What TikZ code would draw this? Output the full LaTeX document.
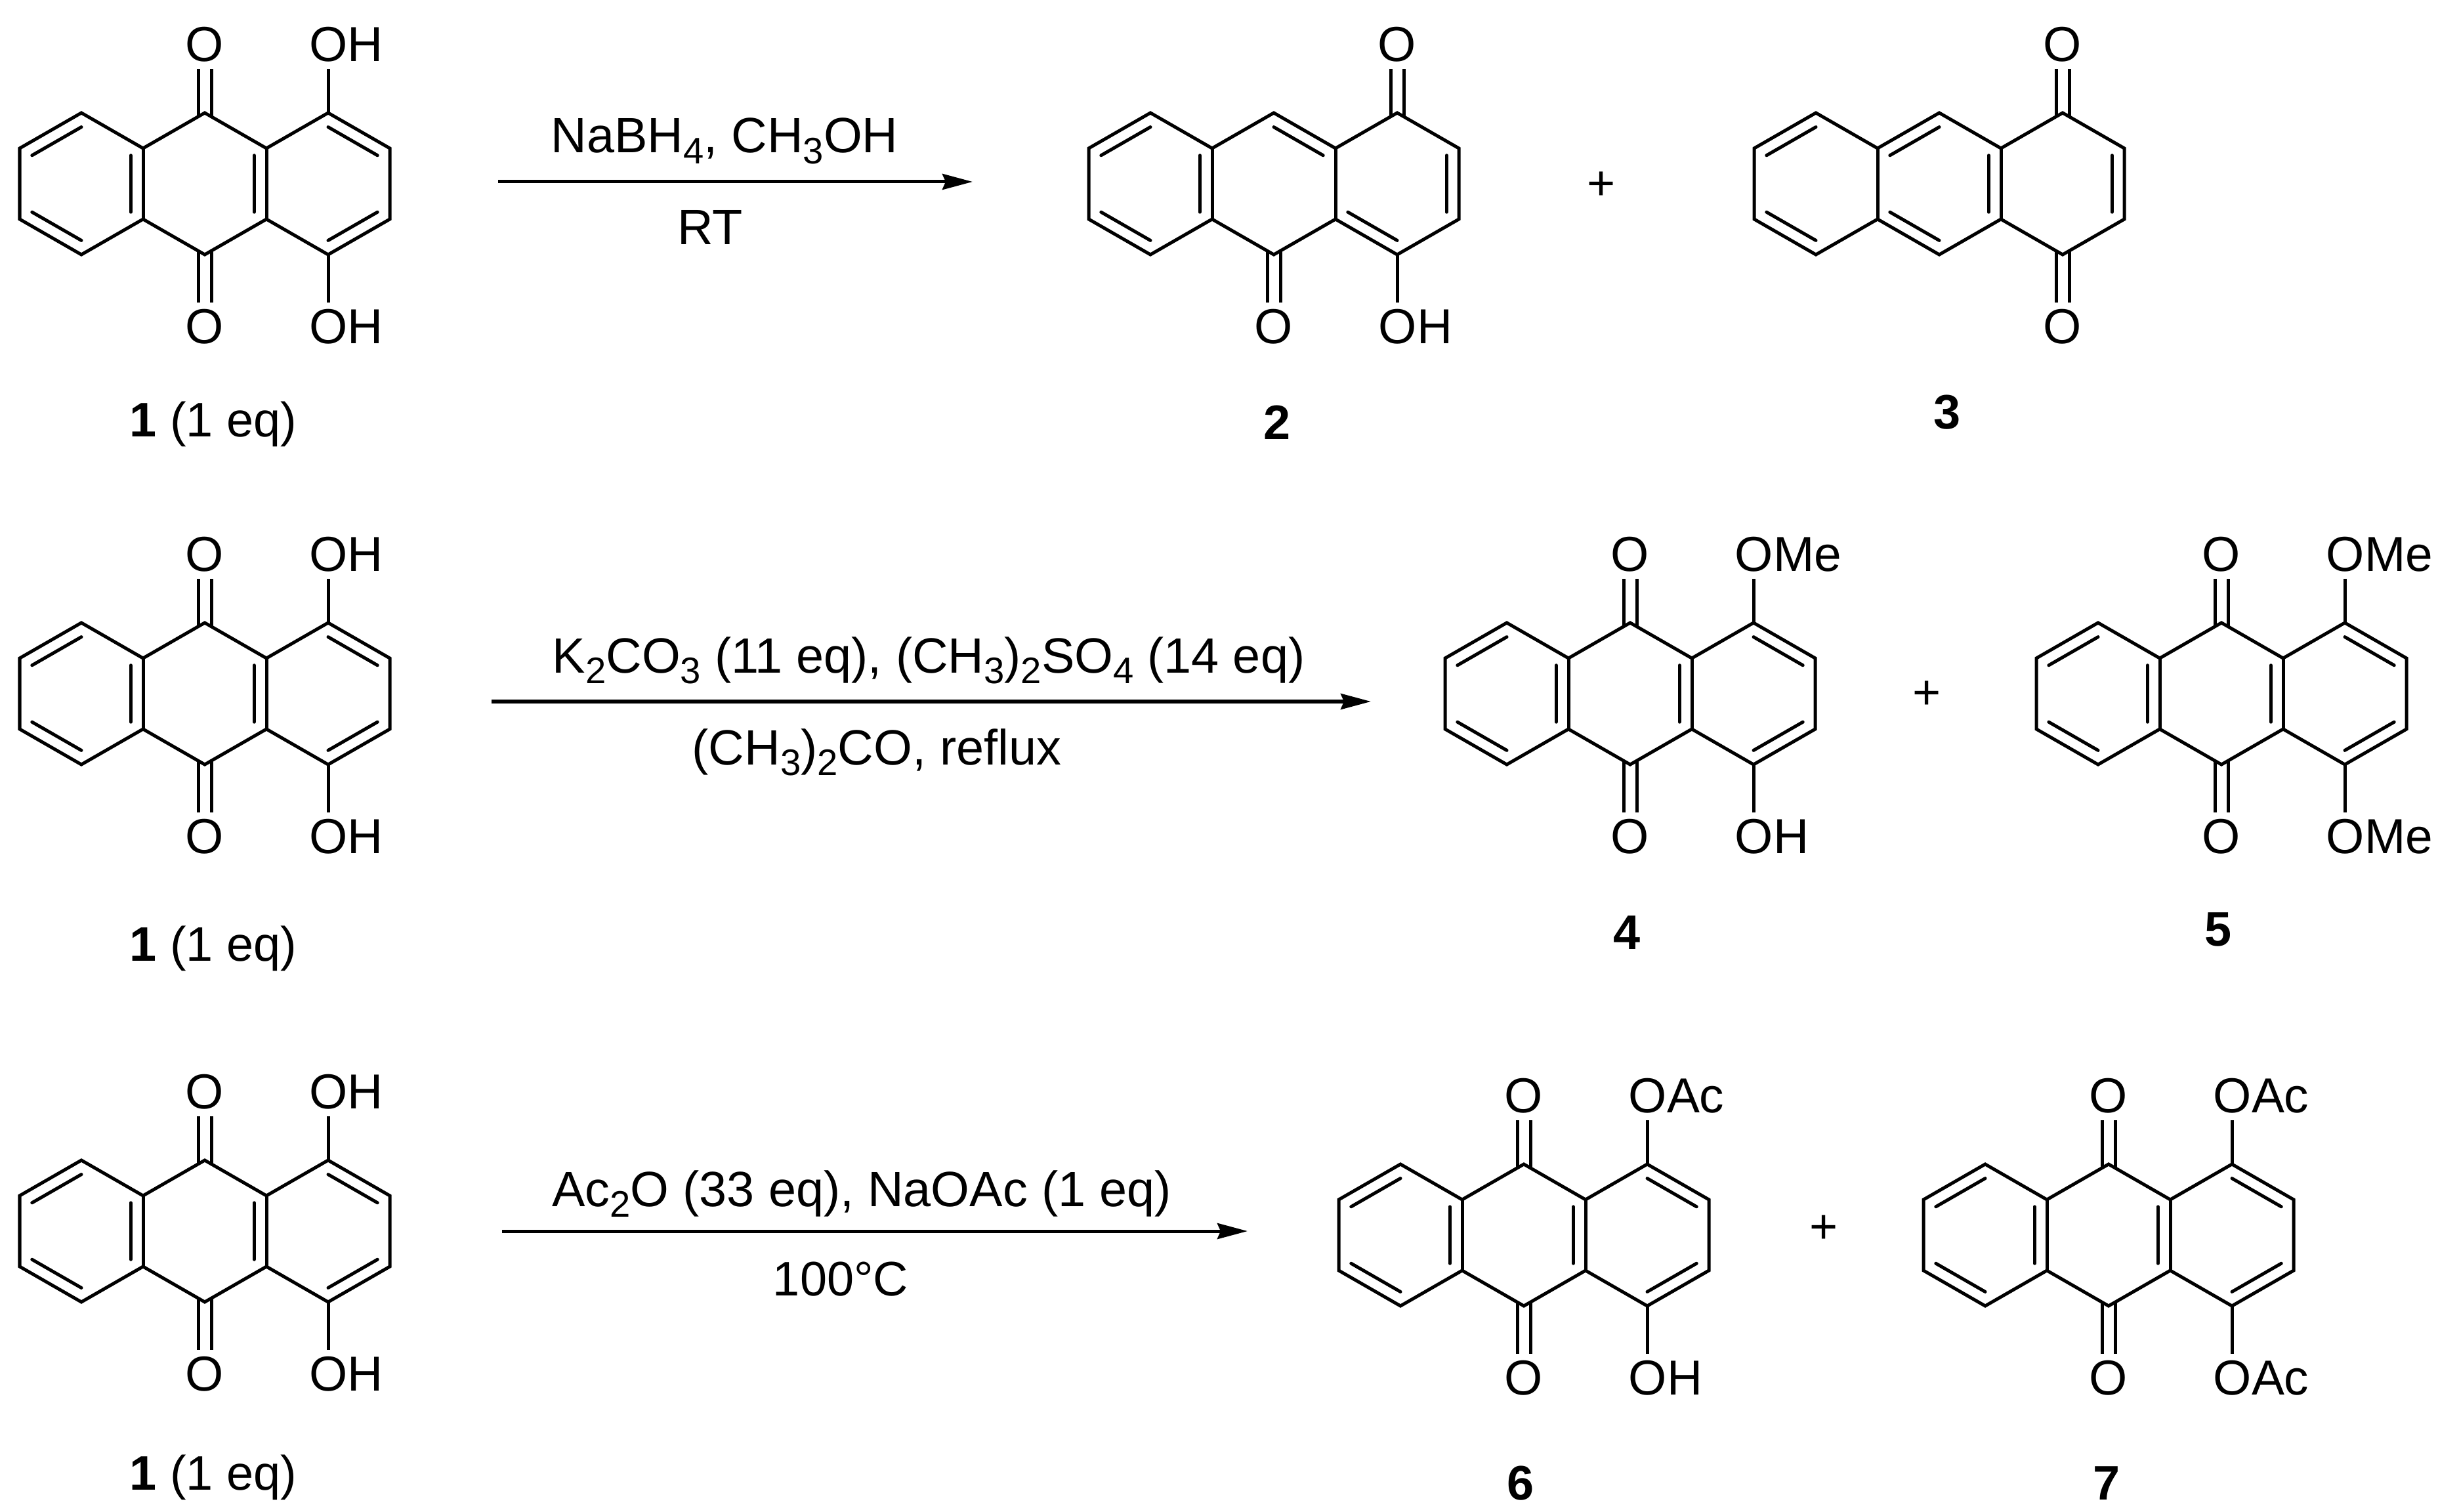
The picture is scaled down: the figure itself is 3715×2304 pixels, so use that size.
\documentclass[tikz,border=0pt]{standalone}
\usepackage{fontspec}
\setmainfont{Liberation Sans}
\usetikzlibrary{calc,arrows.meta}

\tikzset{
  bond/.style={line width=0.05cm},
  inbond/.style={bond,line cap=round},
  atom/.style={inner xsep=0pt,inner ysep=0.095cm,font=\fontsize{21.3}{25}\selectfont},
  rxn/.style={line width=0.05cm,-{Stealth[length=0.46cm,width=0.24cm,inset=0.05cm]}},
  txt/.style={anchor=base,inner sep=0pt},
  cond/.style={txt,font=\fontsize{21.5}{25}\selectfont},
  every node/.append style={font=\fontsize{21}{25}\selectfont}
}

% subscript in the reagent lines
\newcommand{\chsub}[1]{\raisebox{-4.7pt}{\fontsize{16}{18}\selectfont #1}}

% ring skeleton: name, x, y
\newcommand{\anthra}[3]{
  \foreach \k/\dx/\dy in {0/0/-54,1/94/-108,2/188/-54,3/282/-108,4/376/-54,5/470/-108,6/564/-54,
                          7/564/54,8/470/108,9/376/54,10/282/108,11/188/54,12/94/108,13/0/54}
    \coordinate (#1v\k) at (#2+\dx,#3+\dy);
  \coordinate (#1a) at (#2+94,#3);
  \coordinate (#1b) at (#2+282,#3);
  \coordinate (#1c) at (#2+470,#3);
  \draw[bond] (#1v0) -- (#1v1) -- (#1v2) -- (#1v3) -- (#1v4) -- (#1v5) -- (#1v6) -- (#1v7)
    -- (#1v8) -- (#1v9) -- (#1v10) -- (#1v11) -- (#1v12) -- (#1v13) -- cycle;
  \draw[bond] (#1v2) -- (#1v11);
  \draw[bond] (#1v4) -- (#1v9);
}
% inner lines of the double bonds
\newcommand{\inbonds}[2]{
  \foreach \r/\p/\q in {#2}
    \draw[inbond] ($(#1v\p)!.2!(#1\r)$) -- ($(#1v\q)!.2!(#1\r)$);
}
% C=O: name, vertex, dy of O, anchor, dy of line start
\newcommand{\oxo}[5]{
  \node[atom] (#1o#2) at ($(#1v#2)+(0,#3)$) {O};
  \foreach \s in {-10,10}
    \draw[bond] ($(#1v#2)+(\s,#5)$) -- ($(#1o#2.#4)+(\s,0)$);
}
% side group: name, vertex, dy, anchor, text
\newcommand{\sidegrp}[5]{
  \node[atom,anchor=west] (#1s#2) at ($(#1v#2)+(-29,#3)$) {#5};
  \draw[bond] (#1v#2) -- (#1v#2 |- #1s#2.#4);
}
% the 9,10-dione with two groups: name, x, y, top text, bottom text
\newcommand{\quinone}[5]{
  \anthra{#1}{#2}{#3}
  \inbonds{#1}{a/0/1,a/12/13,a/2/11,b/4/9,c/5/6,c/7/8}
  \oxo{#1}{3}{-104}{south}{6}
  \oxo{#1}{10}{110}{north}{-6}
  \sidegrp{#1}{5}{-104}{south}{#4}
  \sidegrp{#1}{8}{110}{north}{#5}
}

\begin{document}
\begin{tikzpicture}[x=0.01cm,y=-0.01cm]
  \useasboundingbox (0,0) rectangle (3715,2304);

  % first line
  \quinone{ma}{30}{280}{OH}{OH}
  \node[txt] (la) at (325,666) {\textbf{1} (1 eq)};
  \coordinate (ras) at (759,277);
  \coordinate (rae) at (1482,277);
  \draw[rxn] (ras) -- (rae);
  \node[cond] (raup) at (1104,233) {NaBH\chsub{4}, CH\chsub{3}OH};
  \node[cond] (radn) at (1082,373) {RT};

  \anthra{mb}{1659}{280}
  \inbonds{mb}{a/0/1,a/12/13,a/2/11,b/3/4,c/6/7,c/8/9}
  \oxo{mb}{5}{-104}{south}{6}
  \oxo{mb}{10}{110}{north}{-6}
  \sidegrp{mb}{8}{110}{north}{OH}
  \node[txt] (lb) at (1946,670) {\textbf{2}};
  \node (pa) at (2440,283) {+};

  \anthra{mc}{2673}{280}
  \inbonds{mc}{a/0/1,a/12/13,b/2/3,b/10/11,b/4/9,c/6/7}
  \oxo{mc}{5}{-104}{south}{6}
  \oxo{mc}{8}{110}{north}{-6}
  \node[txt] (lc) at (2967,654) {\textbf{3}};

  % second line
  \quinone{md}{30}{1057}{OH}{OH}
  \node[txt] (ld) at (325,1464) {\textbf{1} (1 eq)};
  \coordinate (rbs) at (749,1069);
  \coordinate (rbe) at (2089,1069);
  \draw[rxn] (rbs) -- (rbe);
  \node[cond] (rbup) at (1415,1025) {K\chsub{2}CO\chsub{3} (11 eq), (CH\chsub{3})\chsub{2}SO\chsub{4} (14 eq)};
  \node[cond] (rbdn) at (1336,1165) {(CH\chsub{3})\chsub{2}CO, reflux};

  \quinone{me}{2202}{1057}{OMe}{OH}
  \node[txt] (le) at (2479,1446) {\textbf{4}};
  \node (pb) at (2936,1059) {+};
  \quinone{mf}{3103}{1057}{OMe}{OMe}
  \node[txt] (lf) at (3380,1441) {\textbf{5}};

  % third line
  \quinone{mg}{30}{1876}{OH}{OH}
  \node[txt] (lg) at (325,2270) {\textbf{1} (1 eq)};
  \coordinate (rcs) at (765,1876);
  \coordinate (rce) at (1901,1876);
  \draw[rxn] (rcs) -- (rce);
  \node[cond] (rcup) at (1313,1838) {Ac\chsub{2}O (33 eq), NaOAc (1 eq)};
  \node[txt] (rcdn) at (1281,1974) {100°C};

  \quinone{mh}{2040}{1882}{OAc}{OH}
  \node[txt] (lh) at (2317,2285) {\textbf{6}};
  \node (pc) at (2779,1873) {+};
  \quinone{mi}{2931}{1882}{OAc}{OAc}
  \node[txt] (li) at (3210,2285) {\textbf{7}};
\end{tikzpicture}
\end{document}
